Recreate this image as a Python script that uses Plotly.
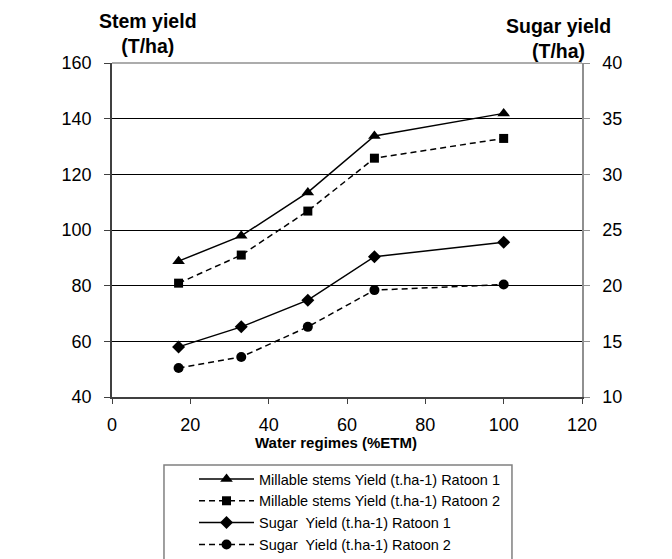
import plotly.graph_objects as go

water_regimes = [17, 33, 50, 67, 100]
stem_ratoon1 = [88.8, 97.9, 113.5, 133.8, 141.9]
stem_ratoon2 = [80.9, 91.0, 106.8, 125.8, 132.9]
sugar_ratoon1 = [14.5, 16.3, 18.7, 22.6, 23.9]
sugar_ratoon2 = [12.6, 13.6, 16.3, 19.6, 20.1]

names = [
    "Millable stems Yield (t.ha-1) Ratoon 1",
    "Millable stems Yield (t.ha-1) Ratoon 2",
    "Sugar  Yield (t.ha-1) Ratoon 1",
    "Sugar  Yield (t.ha-1) Ratoon 2",
]

FONT = "Liberation Sans, Arial, sans-serif"
DASH = "6px,4px"

fig = go.Figure()
fig.add_trace(go.Scatter(x=water_regimes, y=stem_ratoon1, name=names[0], mode="lines+markers",
                         line=dict(color="black", width=1.5),
                         marker=dict(symbol="triangle-up", size=11, color="black")))
fig.add_trace(go.Scatter(x=water_regimes, y=stem_ratoon2, name=names[1], mode="lines+markers",
                         line=dict(color="black", width=1.5, dash=DASH),
                         marker=dict(symbol="square", size=9, color="black")))
fig.add_trace(go.Scatter(x=water_regimes, y=sugar_ratoon1, name=names[2], mode="lines+markers",
                         yaxis="y2", line=dict(color="black", width=1.5),
                         marker=dict(symbol="diamond", size=10, color="black")))
fig.add_trace(go.Scatter(x=water_regimes, y=sugar_ratoon2, name=names[3], mode="lines+markers",
                         yaxis="y2", line=dict(color="black", width=1.5, dash=DASH),
                         marker=dict(symbol="circle", size=10, color="black")))

fig.update_layout(
    width=672, height=559,
    margin=dict(l=104, r=98, t=55, b=170, autoexpand=False),
    paper_bgcolor="white", plot_bgcolor="white",
    font=dict(family=FONT, color="black", size=18),
    showlegend=True,
    legend=dict(x=0.1745, xanchor="left", y=-0.1976, yanchor="top",
                borderwidth=0, bgcolor="rgba(0,0,0,0)",
                font=dict(size=14.5, family=FONT), tracegroupgap=0,
                itemwidth=55),
    xaxis=dict(range=[0, 120], dtick=20, showgrid=False, zeroline=False,
               showline=True, linecolor="#404040", linewidth=1.5,
               ticks="outside", ticklen=5, tickcolor="#404040",
               tickfont=dict(size=18), ticklabelstandoff=6),
    yaxis=dict(range=[40, 160], dtick=20, showgrid=True, gridcolor="black", gridwidth=1,
               zeroline=False, showline=True, linecolor="#404040", linewidth=1.5,
               ticks="outside", ticklen=6, tickcolor="#404040",
               tickfont=dict(size=18), ticklabelstandoff=9),
    yaxis2=dict(range=[10, 40], dtick=5, overlaying="y", side="right", showgrid=False,
                zeroline=False, showline=True, linecolor="#909090", linewidth=1.5,
                ticks="outside", ticklen=6, tickcolor="#909090",
                tickfont=dict(size=18), ticklabelstandoff=9),
    shapes=[
        dict(type="line", xref="paper", yref="paper", x0=0, x1=1, y0=1, y1=1,
             line=dict(color="#909090", width=1.5)),
        dict(type="rect", xref="paper", yref="paper", x0=0.1106, x1=0.851,
             y0=-0.2036, y1=-0.62, line=dict(color="#808080", width=1.5),
             fillcolor="rgba(0,0,0,0)", layer="below"),
    ],
    annotations=[
        dict(text="<b>Stem yield<br>(T/ha)</b>", xref="paper", yref="paper",
             x=0.0766, y=1.0, yanchor="bottom", xanchor="center", showarrow=False,
             font=dict(size=19.5), yshift=4),
        dict(text="<b>Sugar yield<br>(T/ha)</b>", xref="paper", yref="paper",
             x=0.951, y=1.0, yanchor="bottom", xanchor="center", showarrow=False,
             font=dict(size=19.5), yshift=-1),
        dict(text="<b>Water regimes (%ETM)</b>", xref="paper", yref="paper",
             x=0.4766, y=-0.1377, yanchor="middle", xanchor="center", showarrow=False,
             font=dict(size=15)),
    ],
)

fig.write_html("out.html")
